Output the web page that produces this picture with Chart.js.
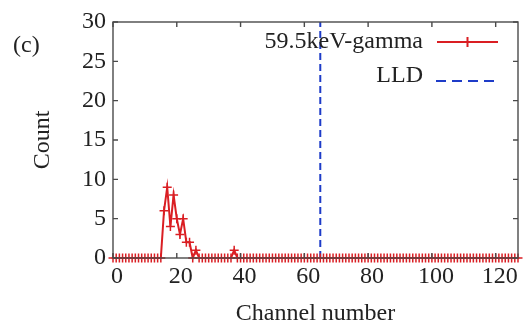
<!DOCTYPE html>
<html>
<head>
<meta charset="utf-8">
<script src="https://cdn.jsdelivr.net/npm/chart.js@4"></script>
<style>
  html, body { margin: 0; padding: 0; background: #fff; }
  canvas { display: block; }
</style>
</head>
<body>
<canvas id="myChart" width="524" height="325"></canvas>
<script>
// spectrum counts per channel, channel = index (0..127)
const counts = [
    0, 0, 0, 0, 0, 0, 0, 0, 0, 0, 0, 0, 0, 0, 0, 0,
    6, 9, 4, 8, 5, 3, 5, 2, 2, 0, 1, 0, 0, 0, 0, 0,
    0, 0, 0, 0, 0, 0, 1, 0, 0, 0, 0, 0, 0, 0, 0, 0,
    0, 0, 0, 0, 0, 0, 0, 0, 0, 0, 0, 0, 0, 0, 0, 0,
    0, 0, 0, 0, 0, 0, 0, 0, 0, 0, 0, 0, 0, 0, 0, 0,
    0, 0, 0, 0, 0, 0, 0, 0, 0, 0, 0, 0, 0, 0, 0, 0,
    0, 0, 0, 0, 0, 0, 0, 0, 0, 0, 0, 0, 0, 0, 0, 0,
    0, 0, 0, 0, 0, 0, 0, 0, 0, 0, 0, 0, 0, 0, 0, 0
];
const lldChannel = 65;
const lldRange = [0, 30];
const xTicks = [0, 20, 40, 60, 80, 100, 120];
const yTicks = [0, 5, 10, 15, 20, 25, 30];
const seriesLabels = ['59.5keV-gamma', 'LLD'];

const red = 'rgb(218, 30, 35)';
const blue = 'rgb(30, 60, 200)';
const axisColor = '#4a4a4a';
const textColor = '#222';
const serif = 'Liberation Serif';

const gammaPoints = counts.map(function (c, i) { return {x: i, y: c}; });
const lldPoints = lldRange.map(function (v) { return {x: lldChannel, y: v}; });

// box, inward ticks, legend and panel letter
const decorations = {
    id: 'decorations',
    afterDatasetsDraw: function (chart) {
        const ctx = chart.ctx;
        const a = chart.chartArea;
        const xs = chart.scales.x, ys = chart.scales.y;
        ctx.save();
        ctx.strokeStyle = axisColor;
        ctx.lineWidth = 1.4;
        ctx.strokeRect(a.left, a.top, a.right - a.left, a.bottom - a.top);
        ctx.beginPath();
        xTicks.forEach(function (t) {
            const px = xs.getPixelForValue(t);
            ctx.moveTo(px, a.bottom); ctx.lineTo(px, a.bottom - 5);
            ctx.moveTo(px, a.top); ctx.lineTo(px, a.top + 5);
        });
        yTicks.forEach(function (t) {
            const py = ys.getPixelForValue(t);
            ctx.moveTo(a.left, py); ctx.lineTo(a.left + 5, py);
            ctx.moveTo(a.right, py); ctx.lineTo(a.right - 5, py);
        });
        ctx.stroke();

        // legend (text right aligned, sample on the right)
        ctx.font = '24px "' + serif + '"';
        ctx.fillStyle = textColor;
        ctx.textAlign = 'right';
        ctx.textBaseline = 'middle';
        ctx.fillText(seriesLabels[0], 423, 42);
        ctx.fillText(seriesLabels[1], 423, 76);
        ctx.strokeStyle = red;
        ctx.lineWidth = 2;
        ctx.beginPath();
        ctx.moveTo(437, 42); ctx.lineTo(498, 42);
        ctx.moveTo(467.5, 37); ctx.lineTo(467.5, 47);
        ctx.stroke();
        ctx.strokeStyle = blue;
        ctx.setLineDash([10, 6]);
        ctx.beginPath();
        ctx.moveTo(436, 81); ctx.lineTo(498, 81);
        ctx.stroke();
        ctx.setLineDash([]);

        ctx.textAlign = 'left';
        ctx.fillText('(c)', 13, 46);
        ctx.restore();
    }
};

const config = {
    type: 'line',
    data: {
        datasets: [{
            label: seriesLabels[0],
            data: gammaPoints,
            borderColor: red,
            backgroundColor: red,
            borderWidth: 2,
            pointStyle: 'cross',
            pointRadius: 4.5,
            pointBorderWidth: 1.5,
            pointBorderColor: red,
            tension: 0,
            clip: false
        }, {
            label: seriesLabels[1],
            data: lldPoints,
            borderColor: blue,
            borderWidth: 2,
            borderDash: [7, 4],
            pointRadius: 0,
            clip: false
        }]
    },
    options: {
        responsive: false,
        animation: false,
        devicePixelRatio: 1,
        layout: { padding: { top: 22, right: 6, left: 28, bottom: 0 } },
        plugins: { legend: { display: false }, tooltip: { enabled: false } },
        scales: {
            x: {
                type: 'linear',
                min: 0,
                max: 127,
                afterBuildTicks: function (s) { s.ticks = xTicks.map(function (v) { return {value: v}; }); },
                afterFit: function (s) { s.height = 67; },
                grid: { display: false, drawTicks: false },
                border: { display: false },
                ticks: { color: textColor, padding: 4, labelOffset: 4, maxRotation: 0, font: { family: serif, size: 24 } },
                title: { display: true, text: 'Channel number', color: textColor, padding: { top: 0, bottom: -3 }, font: { family: serif, size: 24 } }
            },
            y: {
                min: 0,
                max: 30,
                afterBuildTicks: function (s) { s.ticks = yTicks.map(function (v) { return {value: v}; }); },
                afterFit: function (s) { s.width = 85; },
                grid: { display: false, drawTicks: false },
                border: { display: false },
                ticks: { color: textColor, padding: 7, font: { family: serif, size: 24 } },
                title: { display: true, text: 'Count', color: textColor, padding: { top: 0, bottom: 0 }, font: { family: serif, size: 24 } }
            }
        }
    },
    plugins: [decorations]
};

const chart = new Chart(document.getElementById('myChart'), config);
</script>
</body>
</html>
